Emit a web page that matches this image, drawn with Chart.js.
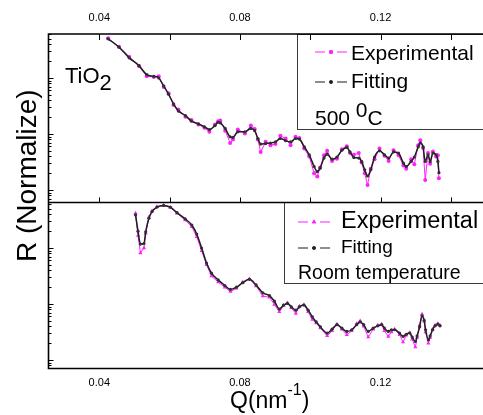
<!DOCTYPE html>
<html>
<head>
<meta charset="utf-8">
<script src="https://cdn.jsdelivr.net/npm/chart.js@4.4.0/dist/chart.umd.min.js"></script>
<style>
  html, body { margin: 0; padding: 0; background: #fff; }
  canvas { display: block; }
</style>
</head>
<body>
<canvas id="xrr" width="483" height="415"></canvas>
<script>
// Annealed film (500 C): scattering vector and normalised reflectivity (log units)
const qAnneal = [
  0.0425, 0.0456, 0.0485, 0.0513, 0.0535, 0.0555, 0.0569, 0.0583, 0.0597, 0.0611,
  0.0625, 0.0645, 0.0662, 0.0682, 0.0699, 0.0713, 0.0729, 0.0738, 0.0744, 0.0758,
  0.0772, 0.0780, 0.0794, 0.0814, 0.0831, 0.0842, 0.0851, 0.0859, 0.0873, 0.0887,
  0.0901, 0.0915, 0.0930, 0.0944, 0.0958, 0.0969, 0.0983, 0.0997, 0.1011, 0.1020,
  0.1028, 0.1039, 0.1048, 0.1062, 0.1076, 0.1090, 0.1104, 0.1113, 0.1124, 0.1138,
  0.1146, 0.1155, 0.1163, 0.1172, 0.1183, 0.1197, 0.1211, 0.1223, 0.1237, 0.1251,
  0.1265, 0.1273, 0.1287, 0.1296, 0.1307, 0.1313, 0.1321, 0.1327, 0.1335, 0.1341,
  0.1349, 0.1358, 0.1363, 0.1366
];
const rAnnealFit = [
  2.70, 2.55, 2.36, 2.22, 2.06, 2.03, 2.00, 1.86, 1.71, 1.54,
  1.41, 1.33, 1.23, 1.18, 1.13, 1.08, 1.15, 1.21, 1.20, 1.10,
  0.95, 0.94, 1.04, 1.04, 1.10, 1.06, 0.92, 0.82, 0.83, 0.84,
  0.86, 0.92, 0.88, 0.86, 0.92, 0.91, 0.77, 0.63, 0.42, 0.33,
  0.39, 0.57, 0.64, 0.55, 0.59, 0.71, 0.76, 0.68, 0.58, 0.57,
  0.51, 0.36, 0.25, 0.36, 0.59, 0.70, 0.63, 0.57, 0.68, 0.66,
  0.48, 0.42, 0.51, 0.59, 0.77, 0.84, 0.77, 0.51, 0.63, 0.51,
  0.66, 0.63, 0.51, 0.31
];
const rAnnealExp = [
  2.71, 2.56, 2.38, 2.21, 2.03, 2.02, 2.03, 1.84, 1.73, 1.52,
  1.44, 1.31, 1.25, 1.17, 1.11, 1.04, 1.17, 1.23, 1.24, 1.06,
  0.84, 0.90, 1.08, 1.01, 1.15, 1.09, 0.90, 0.68, 0.86, 0.80,
  0.82, 0.97, 0.92, 0.80, 0.95, 0.93, 0.74, 0.60, 0.30, 0.24,
  0.40, 0.62, 0.70, 0.52, 0.56, 0.73, 0.78, 0.66, 0.63, 0.66,
  0.49, 0.30, 0.09, 0.38, 0.55, 0.74, 0.61, 0.52, 0.71, 0.62,
  0.44, 0.38, 0.55, 0.46, 0.80, 0.89, 0.75, 0.18, 0.66, 0.47,
  0.69, 0.60, 0.62, 0.21
];

// As-deposited film (room temperature)
const qRoom = [
  0.0503, 0.0510, 0.0517, 0.0527, 0.0532, 0.0541, 0.0550, 0.0564, 0.0583, 0.0602,
  0.0621, 0.0644, 0.0663, 0.0677, 0.0691, 0.0705, 0.0719, 0.0738, 0.0757, 0.0773,
  0.0790, 0.0808, 0.0827, 0.0846, 0.0865, 0.0884, 0.0898, 0.0912, 0.0924, 0.0935,
  0.0946, 0.0959, 0.0969, 0.0982, 0.0994, 0.1006, 0.1017, 0.1029, 0.1048, 0.1062,
  0.1076, 0.1090, 0.1104, 0.1118, 0.1132, 0.1142, 0.1152, 0.1165, 0.1179, 0.1192,
  0.1203, 0.1211, 0.1222, 0.1231, 0.1240, 0.1254, 0.1264, 0.1273, 0.1283, 0.1290,
  0.1299, 0.1304, 0.1311, 0.1318, 0.1324, 0.1328, 0.1336, 0.1341, 0.1348, 0.1355,
  0.1363, 0.1369
];
const rRoomFit = [
  2.59, 2.30, 2.07, 2.08, 2.29, 2.53, 2.65, 2.73, 2.76, 2.73,
  2.63, 2.52, 2.41, 2.25, 2.00, 1.73, 1.55, 1.43, 1.33, 1.26,
  1.30, 1.38, 1.44, 1.34, 1.20, 1.15, 1.05, 0.91, 0.98, 1.01,
  0.95, 0.89, 0.95, 0.98, 0.89, 0.77, 0.68, 0.59, 0.48, 0.55,
  0.63, 0.57, 0.51, 0.54, 0.63, 0.68, 0.63, 0.51, 0.57, 0.61,
  0.63, 0.57, 0.51, 0.54, 0.54, 0.48, 0.42, 0.46, 0.48, 0.41,
  0.33, 0.43, 0.59, 0.79, 0.71, 0.54, 0.36, 0.43, 0.54, 0.61,
  0.64, 0.61
];
const rRoomExp = [
  2.62, 2.22, 1.91, 2.00, 2.26, 2.55, 2.66, 2.74, 2.76, 2.72,
  2.62, 2.50, 2.38, 2.20, 1.95, 1.70, 1.50, 1.39, 1.30, 1.22,
  1.28, 1.39, 1.45, 1.32, 1.14, 1.12, 0.99, 0.86, 0.97, 1.02,
  0.93, 0.83, 0.96, 0.99, 0.86, 0.72, 0.66, 0.57, 0.43, 0.52,
  0.64, 0.55, 0.45, 0.52, 0.65, 0.70, 0.60, 0.41, 0.55, 0.62,
  0.64, 0.52, 0.42, 0.50, 0.55, 0.45, 0.32, 0.44, 0.49, 0.37,
  0.23, 0.40, 0.62, 0.82, 0.69, 0.50, 0.30, 0.40, 0.55, 0.62,
  0.65, 0.62
];

const qTicks = [0.04, 0.06, 0.08, 0.10, 0.12, 0.14];
const qLabels = [0.04, 0.08, 0.12];
const rTicks = [0, 1, 2];

const FONT = "'Liberation Sans', Arial, sans-serif";
const MAGENTA = '#ff1fff';
const DARK = '#1c1c1c';

function pts(q, r) {
  return q.map((x, i) => ({ x: x, y: r[i] }));
}

function qLabel(v) {
  return qLabels.some(l => Math.abs(l - v) < 1e-9) ? v.toFixed(2) : '';
}

function xAxis(position, height, padding) {
  return {
    type: 'linear',
    position: position,
    min: 0.0254,
    max: 0.148,
    afterBuildTicks: s => { s.ticks = qTicks.map(v => ({ value: v })); },
    afterFit: s => { s.height = height; },
    grid: { display: false, drawTicks: false },
    border: { display: false },
    ticks: {
      autoSkip: false,
      maxRotation: 0,
      padding: padding,
      color: '#000',
      font: { family: FONT, size: 11 },
      callback: v => qLabel(v)
    }
  };
}

function yAxis(min, max, weight) {
  return {
    type: 'linear',
    position: 'left',
    stack: 'panels',
    stackWeight: weight,
    min: min,
    max: max,
    afterBuildTicks: s => { s.ticks = rTicks.map(v => ({ value: v })); },
    afterFit: s => { s.width = 48; },
    grid: { display: false, drawTicks: false },
    border: { display: false },
    ticks: { display: false }
  };
}

// box, separator and inward tick marks
const framePlugin = {
  id: 'frame',
  afterDraw(chart) {
    const ctx = chart.ctx;
    const a = chart.chartArea;
    const x = chart.scales.x, yTop = chart.scales.yTop, yBot = chart.scales.yBot;
    const L = Math.round(a.left) + 0.5, T = Math.round(a.top), B = Math.round(a.bottom) + 0.5;
    const R = chart.width + 2;
    const mid = Math.round(yTop.bottom) + 0.5;
    ctx.save();
    ctx.strokeStyle = '#000';
    ctx.lineWidth = 1.6;
    ctx.beginPath();
    [T, mid, B].forEach(y => { ctx.moveTo(L - 0.8, y); ctx.lineTo(R, y); });
    ctx.moveTo(L, T);
    ctx.lineTo(L, B);
    ctx.stroke();

    ctx.lineWidth = 1;
    ctx.beginPath();
    qTicks.forEach(v => {
      const px = Math.round(x.getPixelForValue(v)) + 0.5;
      ctx.moveTo(px, T); ctx.lineTo(px, T + 6);
      ctx.moveTo(px, mid); ctx.lineTo(px, mid - 5);
    });
    [yTop, yBot].forEach(s => {
      [-1].concat(rTicks).forEach(v => {
        if (v >= s.min) {
          const py = Math.round(s.getPixelForValue(v)) + 0.5;
          ctx.moveTo(L, py); ctx.lineTo(L + 5, py);
        }
        for (let m = 2; m <= 9; m++) {
          const mv = v + Math.log10(m);
          if (mv < s.min || mv > s.max) continue;
          const my = Math.round(s.getPixelForValue(mv)) + 0.5;
          ctx.moveTo(L, my); ctx.lineTo(L + 3, my);
        }
      });
    });
    ctx.stroke();
    ctx.restore();
  }
};

function run(ctx, parts, x, y) {
  // parts: [text, size, raise]
  let cx = x;
  parts.forEach(p => {
    ctx.font = p[1] + 'px ' + FONT;
    ctx.fillText(p[0], cx, y - (p[2] || 0));
    cx += ctx.measureText(p[0]).width;
  });
}

function sample(ctx, x0, x1, y, color, style, radius) {
  const c = (x0 + x1) / 2;
  ctx.save();
  ctx.strokeStyle = color;
  ctx.fillStyle = color;
  ctx.lineWidth = 1;
  ctx.beginPath();
  ctx.moveTo(x0, y); ctx.lineTo(x0 + 10, y);
  ctx.moveTo(x1 - 10, y); ctx.lineTo(x1, y);
  ctx.stroke();
  Chart.helpers.drawPoint(ctx, { pointStyle: style, radius: radius, borderWidth: 0 }, c, y);
  ctx.fill();
  ctx.restore();
}

// legends, panel notes and axis titles
const notesPlugin = {
  id: 'notes',
  afterDatasetsDraw(chart) {
    const ctx = chart.ctx;
    const a = chart.chartArea;
    const ds = chart.data.datasets;
    const T = Math.round(a.top) + 0.5;
    const mid = Math.round(chart.scales.yTop.bottom) + 0.5;
    ctx.save();
    ctx.textAlign = 'left';
    ctx.textBaseline = 'alphabetic';
    ctx.strokeStyle = '#3a3a3a';
    ctx.lineWidth = 1;

    // top panel legend
    ctx.fillStyle = '#fff';
    ctx.fillRect(297.5, T, 200, 95);
    ctx.strokeRect(297.5, T, 200, 95);
    sample(ctx, 315, 347, 52, MAGENTA, 'circle', 2);
    sample(ctx, 315, 347, 82, DARK, 'circle', 1.8);
    ctx.fillStyle = '#000';
    run(ctx, [[ds[1].label, 21]], 351, 60);
    run(ctx, [[ds[0].label, 21]], 351, 88);
    run(ctx, [['500 ', 21], ['0', 21, 8], ['C', 21]], 315, 125);

    // bottom panel legend
    ctx.fillStyle = '#fff';
    ctx.fillRect(284.5, mid, 210, 81);
    ctx.strokeRect(284.5, mid, 210, 81);
    sample(ctx, 298, 330, 222, MAGENTA, 'triangle', 2.6);
    sample(ctx, 298, 330, 248, DARK, 'circle', 1.8);
    ctx.fillStyle = '#000';
    run(ctx, [[ds[3].label, 23.5]], 341, 228);
    run(ctx, [[ds[2].label, 19]], 341, 253);
    run(ctx, [['Room temperature', 19.5]], 298, 279);

    // sample name
    run(ctx, [['TiO', 22], ['2', 22, -7]], 65, 83);

    // axis titles
    run(ctx, [['Q(nm', 23], ['-1', 16, 13], [')', 23]], 230, 408);
    ctx.save();
    ctx.translate(36, 262);
    ctx.rotate(-Math.PI / 2);
    run(ctx, [['R (Normalize)', 28]], 0, 0);
    ctx.restore();

    ctx.restore();
  }
};

const fitStyle = {
  borderColor: DARK,
  backgroundColor: '#303030',
  borderWidth: 1.5,
  pointRadius: 1.6,
  pointBorderWidth: 0,
  cubicInterpolationMode: 'monotone',
  order: 0
};

const expStyle = {
  borderColor: MAGENTA,
  backgroundColor: MAGENTA,
  borderWidth: 1,
  pointRadius: 2,
  pointBorderWidth: 0,
  order: 1
};

new Chart(document.getElementById('xrr'), {
  type: 'line',
  data: {
    datasets: [
      Object.assign({ label: 'Fitting', data: pts(qAnneal, rAnnealFit), yAxisID: 'yTop' }, fitStyle),
      Object.assign({ label: 'Experimental', data: pts(qAnneal, rAnnealExp), yAxisID: 'yTop' }, expStyle),
      Object.assign({ label: 'Fitting', data: pts(qRoom, rRoomFit), yAxisID: 'yBot' }, fitStyle),
      Object.assign({ label: 'Experimental', data: pts(qRoom, rRoomExp), yAxisID: 'yBot' }, expStyle,
        { pointStyle: 'triangle', pointRadius: 2.4 })
    ]
  },
  options: {
    responsive: false,
    animation: false,
    events: [],
    layout: { padding: 0 },
    plugins: {
      legend: { display: false },
      tooltip: { enabled: false }
    },
    scales: {
      x: xAxis('bottom', 47, 8),
      xTop: xAxis('top', 34, 9),
      yBot: yAxis(-0.143, 2.821, 166),
      yTop: yAxis(-0.214, 2.786, 168)
    }
  },
  plugins: [framePlugin, notesPlugin]
});
</script>
</body>
</html>
